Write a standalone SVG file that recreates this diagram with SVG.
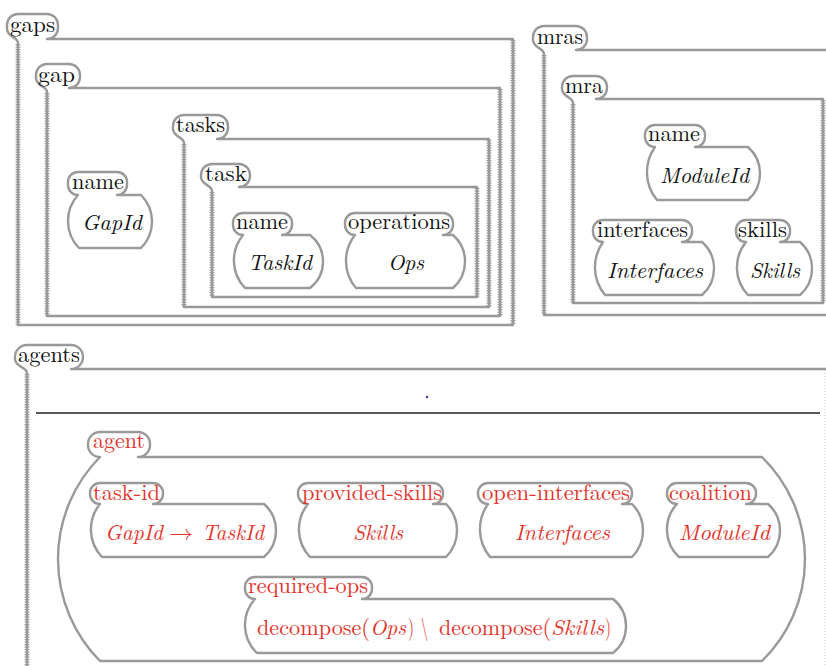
<svg xmlns="http://www.w3.org/2000/svg" width="826" height="666" viewBox="0 0 826 666">
<style>
.box{fill:none;stroke:#999;stroke-width:2.4;stroke-linejoin:round}
.cell{fill:#fff;stroke:#999;stroke-width:2.4;stroke-linejoin:round}
.jag{fill:none;stroke:#999;stroke-width:4.8;stroke-dasharray:1.2 1.3}
.lbl{font-size:22px;fill:#111}
.val{font-size:22px;font-style:italic;fill:#111}
.up{font-style:normal}
.red{fill:#e4322b}
</style>
<rect width="826" height="666" fill="#fff"/>
<g font-family="Latin Modern Roman, Liberation Serif, serif">
<g id="gaps">
<path class="box" d="M18,325 V43 C18,37 7,37 7,29 V25 A11 11 0 0 1 18,14 H47 A11 11 0 0 1 58,25 V28 A11 11 0 0 1 47,39 H513 V325 Z"/>
<path class="jag" d="M18,44 V325 M513,40 V325"/>
<text class="lbl" font-family="Latin Modern Roman, Liberation Serif, serif" x="10" y="32" textLength="45" lengthAdjust="spacingAndGlyphs">gaps</text>
</g>
<g id="gap">
<path class="box" d="M47,316 V92 C47,86 36,86 36,78 V75 A11 11 0 0 1 47,64 H69 A11 11 0 0 1 80,75 V77 A11 11 0 0 1 69,88 H500 V316 Z"/>
<path class="jag" d="M47,93 V316 M500,89 V316"/>
<text class="lbl" font-family="Latin Modern Roman, Liberation Serif, serif" x="38" y="82" textLength="37" lengthAdjust="spacingAndGlyphs">gap</text>
</g>
<g id="gap-name">
<path class="cell" d="M78,172 H117 A10 10 0 0 1 127,182 V185 A10 10 0 0 1 117,195 H141 A37.4 37.4 0 0 1 141,248 H79 A38.7 38.7 0 0 1 78,195 A10 10 0 0 1 68,185 V182 A10 10 0 0 1 78,172 Z"/>
<text class="lbl" font-family="Latin Modern Roman, Liberation Serif, serif" x="72" y="189" textLength="52" lengthAdjust="spacingAndGlyphs">name</text>
<text class="val" font-family="Latin Modern Roman, Liberation Serif, serif" x="82" y="230" textLength="60" lengthAdjust="spacingAndGlyphs">GapId</text>
</g>
<g id="tasks">
<path class="box" d="M184,307 V143 C184,137 173,137 173,129 V126 A11 11 0 0 1 184,115 H217 A11 11 0 0 1 228,126 V128 A11 11 0 0 1 217,139 H489 V307 Z"/>
<path class="jag" d="M184,144 V307 M489,140 V307"/>
<text class="lbl" font-family="Latin Modern Roman, Liberation Serif, serif" x="176" y="132" textLength="49" lengthAdjust="spacingAndGlyphs">tasks</text>
</g>
<g id="task">
<path class="box" d="M212,297 V191 C212,185 201,185 201,177 V175 A11 11 0 0 1 212,164 H239 A11 11 0 0 1 250,175 V176 A11 11 0 0 1 239,187 H477 V297 Z"/>
<path class="jag" d="M212,192 V297 M477,188 V297"/>
<text class="lbl" font-family="Latin Modern Roman, Liberation Serif, serif" x="205" y="181" textLength="42" lengthAdjust="spacingAndGlyphs">task</text>
</g>
<g id="task-name">
<path class="cell" d="M243,213 H282 A10 10 0 0 1 292,223 V225 A10 10 0 0 1 282,235 H310 A33.5 33.5 0 0 1 310,288 H245 A40 40 0 0 1 243,235 A10 10 0 0 1 233,225 V223 A10 10 0 0 1 243,213 Z"/>
<text class="lbl" font-family="Latin Modern Roman, Liberation Serif, serif" x="236" y="229" textLength="52" lengthAdjust="spacingAndGlyphs">name</text>
<text class="val" font-family="Latin Modern Roman, Liberation Serif, serif" x="248" y="270" textLength="64" lengthAdjust="spacingAndGlyphs">TaskId</text>
</g>
<g id="task-operations">
<path class="cell" d="M355,213 H443 A10 10 0 0 1 453,223 V225 A10 10 0 0 1 443,235 H453 A35.2 35.2 0 0 1 453,288 H356 A41.7 41.7 0 0 1 355,235 A10 10 0 0 1 345,225 V223 A10 10 0 0 1 355,213 Z"/>
<text class="lbl" font-family="Latin Modern Roman, Liberation Serif, serif" x="348" y="229" textLength="102" lengthAdjust="spacingAndGlyphs">operations</text>
<text class="val" font-family="Latin Modern Roman, Liberation Serif, serif" x="388" y="270" textLength="36" lengthAdjust="spacingAndGlyphs">Ops</text>
</g>

<g id="mras">
<path class="box" d="M826,315 H544 V54 C544,48 533,48 533,40 V37 A11 11 0 0 1 544,26 H576 A11 11 0 0 1 587,37 V39 A11 11 0 0 1 576,50 H826"/>
<path class="jag" d="M544,55 V315"/>
<text class="lbl" font-family="Latin Modern Roman, Liberation Serif, serif" x="537" y="44" textLength="46" lengthAdjust="spacingAndGlyphs">mras</text>
</g>
<g id="mra">
<path class="box" d="M573,303 V103 C573,97 562,97 562,89 V87 A11 11 0 0 1 573,76 H596 A11 11 0 0 1 607,87 V88 A11 11 0 0 1 596,99 H823 V303 Z"/>
<path class="jag" d="M573,104 V303 M823,100 V303"/>
<text class="lbl" font-family="Latin Modern Roman, Liberation Serif, serif" x="565" y="93" textLength="38" lengthAdjust="spacingAndGlyphs">mra</text>
</g>
<g id="mra-name">
<path class="cell" d="M655,125 H695 A10 10 0 0 1 705,135 V137 A10 10 0 0 1 695,147 H748 A35.2 35.2 0 0 1 748,200 H657 A43.5 43.5 0 0 1 655,147 A10 10 0 0 1 645,137 V135 A10 10 0 0 1 655,125 Z"/>
<text class="lbl" font-family="Latin Modern Roman, Liberation Serif, serif" x="648" y="141" textLength="52" lengthAdjust="spacingAndGlyphs">name</text>
<text class="val" font-family="Latin Modern Roman, Liberation Serif, serif" x="660" y="183" textLength="89" lengthAdjust="spacingAndGlyphs">ModuleId</text>
</g>
<g id="mra-interfaces">
<path class="cell" d="M603,220 H682 A10 10 0 0 1 692,230 V232 A10 10 0 0 1 682,242 H702 A35.2 35.2 0 0 1 702,295 H605 A43.5 43.5 0 0 1 603,242 A10 10 0 0 1 593,232 V230 A10 10 0 0 1 603,220 Z"/>
<text class="lbl" font-family="Latin Modern Roman, Liberation Serif, serif" x="597" y="237" textLength="91" lengthAdjust="spacingAndGlyphs">interfaces</text>
<text class="val" font-family="Latin Modern Roman, Liberation Serif, serif" x="607" y="278" textLength="96" lengthAdjust="spacingAndGlyphs">Interfaces</text>
</g>
<g id="mra-skills">
<path class="cell" d="M746,220 H780 A10 10 0 0 1 790,230 V232 A10 10 0 0 1 780,242 H800 A35.2 35.2 0 0 1 800,295 H748 A40 40 0 0 1 746,242 A10 10 0 0 1 736,232 V230 A10 10 0 0 1 746,220 Z"/>
<text class="lbl" font-family="Latin Modern Roman, Liberation Serif, serif" x="738" y="237" textLength="49" lengthAdjust="spacingAndGlyphs">skills</text>
<text class="val" font-family="Latin Modern Roman, Liberation Serif, serif" x="750" y="278" textLength="50" lengthAdjust="spacingAndGlyphs">Skills</text>
</g>

<g id="agents">
<path class="box" d="M27,666 V373 C27,367 15,367 15,359 V357 A12 12 0 0 1 27,345 H71 A12 12 0 0 1 83,357 A12 12 0 0 1 71,369 H826"/>
<path class="jag" d="M27,374 V666"/>
<path d="M825,370 V666" fill="none" stroke="#c8c8c8" stroke-width="1" stroke-dasharray="1 2"/>
<text class="lbl" font-family="Latin Modern Roman, Liberation Serif, serif" x="18" y="362" textLength="62" lengthAdjust="spacingAndGlyphs">agents</text>
<path d="M36,413 H820" fill="none" stroke="#222" stroke-width="1.3"/>
<circle cx="427" cy="397" r="1.2" fill="#3a3aa0"/>
</g>
<g id="agent">
<path class="cell" d="M100,432 H138 A12 12 0 0 1 150,444 V445 A12 12 0 0 1 138,457 H762 A142.5 142.5 0 0 1 762,661 H100 A144.9 144.9 0 0 1 100,457 A12 12 0 0 1 88,445 V444 A12 12 0 0 1 100,432 Z"/>
<text class="lbl red" font-family="Latin Modern Roman, Liberation Serif, serif" x="93" y="448" textLength="52" lengthAdjust="spacingAndGlyphs">agent</text>
</g>
<g id="agent-task-id">
<path class="cell" d="M100,483 H153 A10 10 0 0 1 163,493 V494 A10 10 0 0 1 153,504 H264 A35.2 35.2 0 0 1 264,557 H102 A40 40 0 0 1 100,504 A10 10 0 0 1 90,494 V493 A10 10 0 0 1 100,483 Z"/>
<text class="lbl red" font-family="Latin Modern Roman, Liberation Serif, serif" x="93" y="500" textLength="67" lengthAdjust="spacingAndGlyphs">task-id</text>
<text class="val red" font-family="Latin Modern Roman, Liberation Serif, serif" y="540"><tspan x="105" textLength="58" lengthAdjust="spacingAndGlyphs">GapId</tspan><tspan class="up" font-family="Latin Modern Math, DejaVu Serif, serif" x="169" textLength="24" lengthAdjust="spacingAndGlyphs">→</tspan><tspan x="202" textLength="62" lengthAdjust="spacingAndGlyphs">TaskId</tspan></text>
</g>
<g id="agent-provided-skills">
<path class="cell" d="M308,483 H433 A10 10 0 0 1 443,493 V494 A10 10 0 0 1 433,504 H446 A37.4 37.4 0 0 1 446,557 H310 A40 40 0 0 1 308,504 A10 10 0 0 1 298,494 V493 A10 10 0 0 1 308,483 Z"/>
<text class="lbl red" font-family="Latin Modern Roman, Liberation Serif, serif" x="302" y="500" textLength="140" lengthAdjust="spacingAndGlyphs">provided-skills</text>
<text class="val red" font-family="Latin Modern Roman, Liberation Serif, serif" x="353" y="540" textLength="50" lengthAdjust="spacingAndGlyphs">Skills</text>
</g>
<g id="agent-open-interfaces">
<path class="cell" d="M488,483 H622 A10 10 0 0 1 632,493 V494 A10 10 0 0 1 622,504 H632 A37.4 37.4 0 0 1 632,557 H490 A43.5 43.5 0 0 1 488,504 A10 10 0 0 1 478,494 V493 A10 10 0 0 1 488,483 Z"/>
<text class="lbl red" font-family="Latin Modern Roman, Liberation Serif, serif" x="482" y="500" textLength="148" lengthAdjust="spacingAndGlyphs">open-interfaces</text>
<text class="val red" font-family="Latin Modern Roman, Liberation Serif, serif" x="515" y="540" textLength="95" lengthAdjust="spacingAndGlyphs">Interfaces</text>
</g>
<g id="agent-coalition">
<path class="cell" d="M677,483 H746 A10 10 0 0 1 756,493 V494 A10 10 0 0 1 746,504 H768 A35.2 35.2 0 0 1 768,557 H679 A37.4 37.4 0 0 1 677,504 A10 10 0 0 1 667,494 V493 A10 10 0 0 1 677,483 Z"/>
<text class="lbl red" font-family="Latin Modern Roman, Liberation Serif, serif" x="669" y="500" textLength="83" lengthAdjust="spacingAndGlyphs">coalition</text>
<text class="val red" font-family="Latin Modern Roman, Liberation Serif, serif" x="679" y="540" textLength="91" lengthAdjust="spacingAndGlyphs">ModuleId</text>
</g>
<g id="agent-required-ops">
<path class="cell" d="M255,577 H362 A10 10 0 0 1 372,587 V589 A10 10 0 0 1 362,599 H613 A34.5 34.5 0 0 1 613,653 H257 A38.6 38.6 0 0 1 255,599 A10 10 0 0 1 245,589 V587 A10 10 0 0 1 255,577 Z"/>
<text class="lbl red" font-family="Latin Modern Roman, Liberation Serif, serif" x="248" y="593" textLength="120" lengthAdjust="spacingAndGlyphs">required-ops</text>
<text class="val red" font-family="Latin Modern Roman, Liberation Serif, serif" y="635"><tspan class="up" x="257" textLength="113" lengthAdjust="spacingAndGlyphs">decompose(</tspan><tspan x="370" textLength="36" lengthAdjust="spacingAndGlyphs">Ops</tspan><tspan class="up" x="408" textLength="6" lengthAdjust="spacingAndGlyphs">)</tspan><tspan class="up" x="421" textLength="7" lengthAdjust="spacingAndGlyphs">\</tspan><tspan class="up" x="439" textLength="112" lengthAdjust="spacingAndGlyphs">decompose(</tspan><tspan x="551" textLength="53" lengthAdjust="spacingAndGlyphs">Skills</tspan><tspan class="up" x="605" textLength="6" lengthAdjust="spacingAndGlyphs">)</tspan></text>
</g>
</g>
<g id="connectors"/>
</svg>
